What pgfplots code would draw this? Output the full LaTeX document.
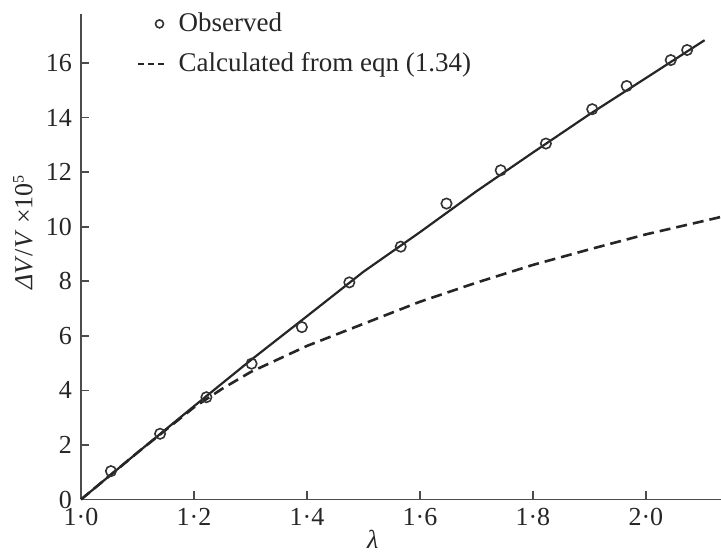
\documentclass[border=0pt]{standalone}
\usepackage{fontspec}
\setmainfont{Liberation Serif}
\usepackage{pgfplots}
\pgfplotsset{compat=1.18}
\pgfplotstableread{
x y
1.053 1.04
1.140 2.41
1.222 3.75
1.302 4.98
1.391 6.32
1.475 7.96
1.566 9.27
1.647 10.85
1.743 12.07
1.823 13.05
1.905 14.31
1.966 15.16
2.044 16.11
2.073 16.48
}\observed
\pgfplotstableread{
x y
1.0 0
1.1 1.72
1.2 3.42
1.3 5.10
1.4 6.72
1.5 8.35
1.6 9.80
1.7 11.30
1.8 12.72
1.9 14.12
2.0 15.45
2.104 16.84
}\fitline
\pgfplotstableread{
x y
1.0 0
1.1 1.72
1.2 3.38
1.25 4.06
1.3 4.67
1.4 5.63
1.5 6.44
1.6 7.25
1.7 7.95
1.8 8.60
1.9 9.17
2.0 9.72
2.1 10.20
2.133 10.36
}\calc
\begin{document}
\fontsize{13}{15.6}\selectfont
\begin{tikzpicture}
\begin{axis}[
  scale only axis,
  width=320pt, height=242.75pt,
  xmin=1.0, xmax=2.133, ymin=0, ymax=17.8,
  axis x line=bottom, axis y line=left,
  axis line style={-, black!70, line width=0.9pt},
  tick style={black!70, line width=0.8pt},
  tick align=inside, major tick length=4pt,
  xtick={1.0,1.2,1.4,1.6,1.8,2.0},
  xticklabels={1·0,1·2,1·4,1·6,1·8,2·0},
  ytick={0,2,4,6,8,10,12,14,16},
  yticklabels={0,2,4,6,8,10,12,14,16},
  tick label style={text=black!85},
  xlabel={\textit{λ}},
  xlabel style={at={(axis description cs:0.456,-0.082)}, anchor=center, text=black!85},
  ylabel={\textit{ΔV}/\textit{V} ×10\textsuperscript{\footnotesize 5}},
  ylabel style={at={(axis description cs:-0.0906,0.551)}, anchor=center, rotate=0, text=black!85},
  legend style={draw=none, fill=none, at={(axis description cs:0.0875,1.012)}, anchor=north west,
    inner xsep=0pt, inner ysep=0pt, row sep=4.5pt, text=black!85,
    nodes={inner xsep=5.5pt}, font=\fontsize{13.5}{16}\selectfont},
  legend cell align=left,
  reverse legend,
  clip=false,
]
\addplot[black!85, line width=1.3pt, dash pattern=on 5.5pt off 3pt,
  legend image code/.code={\draw[black!85, line width=1.1pt, dash pattern=on 3pt off 2pt] (0pt,0pt) -- (14pt,0pt);}]
  table[x=x,y=y] {\calc};
\addlegendentry{Calculated from eqn (1.34)}
\addplot[black!85, line width=1.1pt, forget plot] table[x=x,y=y] {\fitline};
\addplot[only marks, mark=o, mark size=2.6pt, mark options={black!80, fill=white, line width=0.8pt},
  legend image code/.code={\draw[black!80, fill=white, line width=0.8pt] (10.5pt,0pt) circle (2pt);}]
  table[x=x,y=y] {\observed};
\addlegendentry{Observed}
\end{axis}
\pgfresetboundingbox
\path ([xshift=-40.5pt,yshift=-27.75pt]current axis.south west) rectangle ([yshift=7pt]current axis.north east);
\end{tikzpicture}
\end{document}
